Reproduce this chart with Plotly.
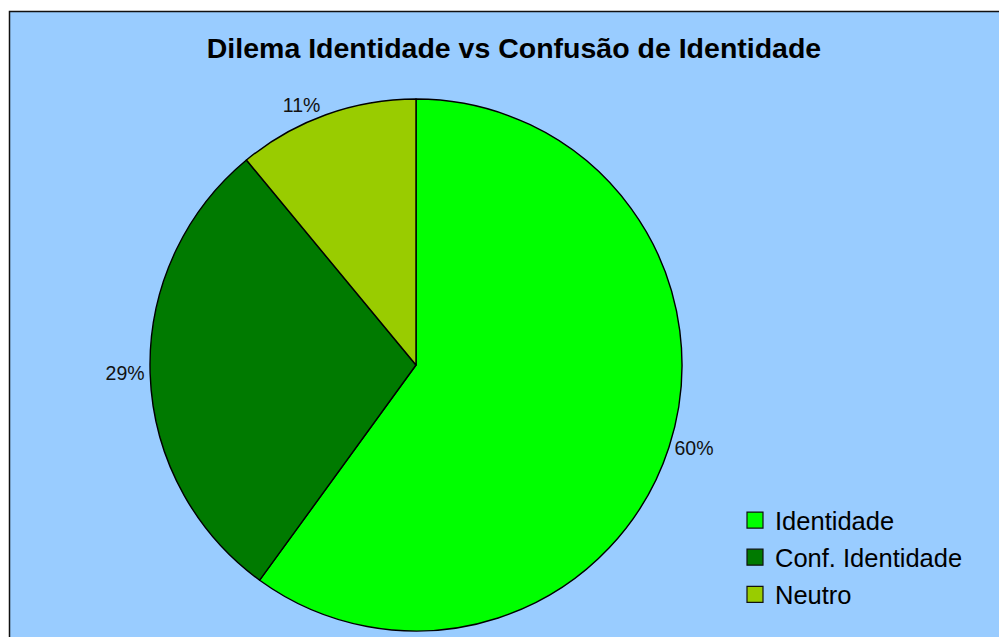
import plotly.graph_objects as go

categories = ["Identidade", "Conf. Identidade", "Neutro"]
values = [60, 29, 11]
colors = ["#00FF00", "#007A00", "#99CC00"]

# page body has an 8px margin; figure is sized to fill the remaining window
OFF = 8
W, H = 1007 - OFF, 637 - OFF
cx, cy, r = 416 - OFF, 365 - OFF, 266
FONT = "Liberation Sans, Arial"

fig = go.Figure()
fig.add_trace(go.Pie(
    labels=categories,
    values=values,
    sort=False,
    direction="clockwise",
    rotation=0,
    marker=dict(colors=colors, line=dict(color="black", width=1.4)),
    textinfo="percent",
    texttemplate="%{percent:.0%}",
    textposition="outside",
    textfont=dict(family=FONT, size=19.5, color="#111"),
    domain=dict(x=[(cx - r) / W, (cx + r) / W], y=[(H - cy - r) / H, (H - cy + r) / H]),
    hoverinfo="label+percent",
    showlegend=False,
))

# legend entries (one group each for the wider row spacing)
for i, (name, col) in enumerate(zip(categories, colors)):
    fig.add_trace(go.Scatter(
        x=[None], y=[None], mode="markers", name=name,
        legendgroup=f"g{i}",
        marker=dict(symbol="square", size=16, color=col, line=dict(color="#111", width=1.2)),
    ))

fig.update_layout(
    width=W, height=H,
    margin=dict(l=0, r=0, t=0, b=0),
    paper_bgcolor="white",
    plot_bgcolor="rgba(0,0,0,0)",
    xaxis=dict(visible=False),
    yaxis=dict(visible=False),
    shapes=[dict(type="rect", xref="paper", yref="paper",
                 x0=1.5 / W, x1=1.02, y0=-0.02, y1=1 - 3.5 / H,
                 fillcolor="#99CCFF", line=dict(color="#111", width=1.5), layer="below")],
    title=dict(text="<b>Dilema Identidade vs Confusão de Identidade</b>",
               x=(514 - OFF) / W, xanchor="center", y=1 - (48 - OFF) / H, yanchor="middle",
               font=dict(family=FONT, size=28.5, color="black")),
    legend=dict(x=(735 - OFF) / W, y=1 - (497 - OFF) / H, xanchor="left", yanchor="top",
                bgcolor="rgba(0,0,0,0)",
                font=dict(family=FONT, size=25.5, color="black"),
                itemwidth=30, tracegroupgap=1),
    showlegend=True,
)

fig.write_html("out.html")
